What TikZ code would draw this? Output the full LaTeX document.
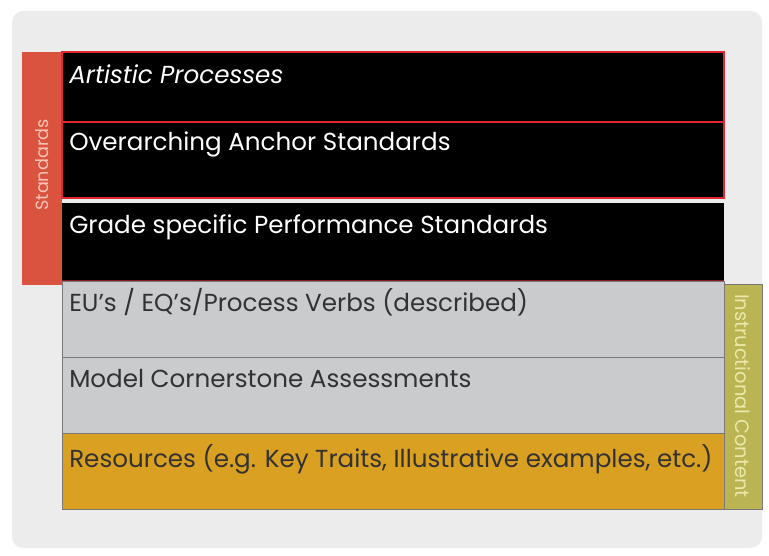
\documentclass[tikz,border=0pt]{standalone}
\usepackage{fontspec}
\setmainfont{Poppins}
\definecolor{panelgray}{RGB}{236,236,236}
\definecolor{stdred}{RGB}{217,83,62}
\definecolor{stdtext}{RGB}{247,196,182}
\definecolor{instolive}{RGB}{186,180,82}
\definecolor{insttext}{RGB}{236,232,172}
\definecolor{rowred}{RGB}{225,40,50}
\definecolor{rowgray}{RGB}{201,203,205}
\definecolor{roworange}{RGB}{218,160,34}
\definecolor{rowedge}{RGB}{120,120,120}
\definecolor{darktext}{RGB}{50,50,50}

\begin{document}
\begin{tikzpicture}[x=0.025cm,y=-0.025cm,
 rowtext/.style={anchor=west,inner sep=0pt,font=\fontsize{17.5}{20}\selectfont},
 sidetext/.style={inner sep=0pt,font=\fontsize{12.5}{14}\selectfont}]
\useasboundingbox (0,0) rectangle (769,556);
\fill[white] (0,0) rectangle (769,556);
\fill[panelgray,rounded corners=8pt] (12,11) rectangle (762,548);
% side bars
\fill[stdred] (22,52) rectangle (62,285);
\node[sidetext,text=stdtext,rotate=90] (std) at (42,165) {Standards};
\draw[rowedge,fill=instolive] (724,284) rectangle (762,509);
\node[sidetext,text=insttext,rotate=-90,font=\fontsize{13.8}{15}\selectfont] (inst) at (743,396) {Instructional Content};
% standards rows
\draw[rowred,line width=1.2pt,fill=black] (62,52) rectangle (724,198);
\draw[rowred,line width=1.2pt] (62,122) -- (724,122);
\fill[black] (62,203) rectangle (724,280);
\draw[rowred!60!black,line width=0.6pt] (62,280) -- (724,280);
\node[rowtext,text=white,font=\fontsize{17.5}{20}\selectfont\itshape] (artistic) at (69,74) {Artistic Processes};
\node[rowtext,text=white] (anchor) at (69,144) {Overarching Anchor Standards};
\node[rowtext,text=white] (grade) at (69,227) {Grade specific Performance Standards};
% instructional rows
\draw[rowedge,fill=rowgray] (62,281) rectangle (724,357);
\draw[rowedge,fill=rowgray] (62,357) rectangle (724,433);
\draw[rowedge,fill=roworange] (62,433) rectangle (724,509);
\node[rowtext,text=darktext] (eus) at (69,302) {EU's / EQ's/Process Verbs (described)};
\node[rowtext,text=darktext] (model) at (69,379) {Model Cornerstone Assessments};
\node[rowtext,text=darktext] (res) at (69,459) {Resources (e.g. Key Traits, Illustrative examples, etc.)};
\end{tikzpicture}
\end{document}
